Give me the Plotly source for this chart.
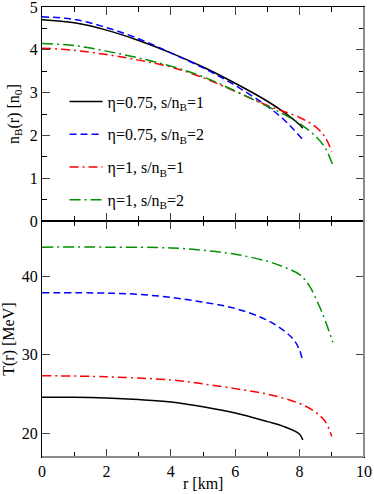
import plotly.graph_objects as go

# ---- data: top panel n_B(r) ----
r_a = [0, 1, 2, 3, 4, 5, 6, 7, 7.5, 8, 8.1]
nb_a = [4.70, 4.63, 4.46, 4.22, 3.93, 3.60, 3.22, 2.80, 2.55, 2.25, 2.17]
r_b = [0, 1, 2, 3, 4, 5, 6, 7, 7.5, 7.8, 8.08]
nb_b = [4.77, 4.71, 4.52, 4.26, 3.93, 3.58, 3.17, 2.68, 2.38, 2.15, 1.92]
r_c = [0, 1, 2, 3, 4, 5, 6, 7, 8, 8.5, 8.8, 9.0]
nb_c = [4.04, 3.99, 3.89, 3.76, 3.60, 3.35, 3.03, 2.70, 2.42, 2.20, 1.95, 1.62]
r_d = [0, 1, 2, 3, 4, 5, 6, 7, 7.5, 8, 8.5, 8.8, 9.05]
nb_d = [4.15, 4.10, 3.97, 3.81, 3.62, 3.37, 3.04, 2.68, 2.50, 2.28, 1.98, 1.70, 1.27]

# ---- data: bottom panel T(r) ----
rt_a = [0, 1, 2, 3, 4, 5, 6, 7, 7.5, 8, 8.1]
t_a = [24.6, 24.6, 24.5, 24.3, 24.0, 23.4, 22.6, 21.5, 20.9, 19.9, 19.15]
rt_b = [0, 2, 3, 4, 5, 6, 7, 7.5, 7.8, 8.0, 8.1]
t_b = [37.9, 37.85, 37.7, 37.3, 36.7, 35.9, 34.4, 33.1, 32.0, 30.6, 29.1]
rt_c = [0, 2, 4, 5, 6, 7, 8, 8.5, 8.8, 9.0]
t_c = [27.35, 27.2, 26.8, 26.3, 25.7, 25.0, 23.8, 22.7, 21.5, 19.6]
rt_d = [0, 2, 4, 5, 6, 7, 7.5, 8, 8.3, 8.6, 8.8, 9.03]
t_d = [43.7, 43.7, 43.6, 43.3, 42.8, 41.9, 41.2, 40.2, 38.8, 36.3, 34.3, 31.6]

names = ["η=0.75, s/n<sub>B</sub>=1", "η=0.75, s/n<sub>B</sub>=2",
         "η=1, s/n<sub>B</sub>=1", "η=1, s/n<sub>B</sub>=2"]
colors = ["#000000", "#0000ff", "#ff0000", "#009000"]
dashes = ["solid", "7px,4px", "9px,4px,2px,4px", "11px,4px,2px,4px"]

FONT = "Liberation Serif"
GREY = "#8c8c8c"

fig = go.Figure()
top = [(r_a, nb_a), (r_b, nb_b), (r_c, nb_c), (r_d, nb_d)]
bot = [(rt_a, t_a), (rt_b, t_b), (rt_c, t_c), (rt_d, t_d)]
for i, (x, y) in enumerate(top):
    fig.add_trace(go.Scatter(x=x, y=y, mode="lines", name=names[i],
                             legendgroup=f"g{i}", line_shape="spline",
                             line=dict(color=colors[i], width=1.5, dash=dashes[i]),
                             xaxis="x", yaxis="y"))
for i, (x, y) in enumerate(bot):
    fig.add_trace(go.Scatter(x=x, y=y, mode="lines", name=names[i],
                             legendgroup=f"g{i}", showlegend=False, line_shape="spline",
                             line=dict(color=colors[i], width=1.5, dash=dashes[i]),
                             xaxis="x2", yaxis="y2"))

split = 0.524
tf = dict(family=FONT, size=16, color="black")
common_x = dict(range=[0, 10], dtick=2, ticks="inside", ticklen=8, tickwidth=1,
                showline=True, linecolor="black", linewidth=1, mirror="allticks",
                showgrid=False, zeroline=False, automargin=False,
                minor=dict(dtick=1, ticks="inside", ticklen=5, tickcolor="black"),
                tickfont=tf)

fig.update_layout(
    width=374, height=494,
    margin=dict(l=42, r=10, t=7, b=37),
    plot_bgcolor="white", paper_bgcolor="white",
    font=dict(family=FONT, size=16, color="black"),
    showlegend=True,
    legend=dict(x=0.07, y=0.680, xanchor="left", yanchor="middle",
                bgcolor="rgba(0,0,0,0)", font=tf,
                traceorder="grouped", tracegroupgap=9, itemwidth=33),
    xaxis=dict(domain=[0, 1], anchor="y", showticklabels=False, **common_x),
    xaxis2=dict(domain=[0, 1], anchor="y2", ticklabeloverflow="allow", **common_x),
    yaxis=dict(domain=[split, 1], anchor="x", range=[0, 5], dtick=1,
               ticks="inside", ticklen=8, showline=True, linecolor="black",
               mirror="allticks", showgrid=False, zeroline=False, automargin=False,
               ticklabeloverflow="allow",
               minor=dict(dtick=0.5, ticks="inside", ticklen=5, tickcolor="black"),
               tickfont=tf,
               title=dict(text="n<sub>B</sub>(r) [n<sub>0</sub>]", standoff=6, font=tf)),
    yaxis2=dict(domain=[0, split], anchor="x2", range=[17, 47], dtick=10,
                ticks="inside", ticklen=8, showline=True, linecolor="black",
                mirror="allticks", showgrid=False, zeroline=False, automargin=False,
                ticklabeloverflow="allow", tickfont=tf,
                title=dict(text="T(r) [MeV]", standoff=6, font=tf)),
    shapes=[
        dict(type="line", xref="paper", yref="paper", x0=1, x1=1, y0=0, y1=1,
             line=dict(color=GREY, width=2), layer="above"),
        dict(type="line", xref="paper", yref="paper", x0=0, x1=1, y0=0, y1=0,
             line=dict(color=GREY, width=2), layer="above"),
    ],
    annotations=[dict(text="r [km]", xref="paper", yref="paper", x=0.5, y=-0.058,
                      xanchor="center", yanchor="middle", showarrow=False, font=tf)],
)

fig.write_html("out.html", config={"displayModeBar": False},
               post_script="document.body.style.margin='0';document.body.style.overflow='hidden';")
